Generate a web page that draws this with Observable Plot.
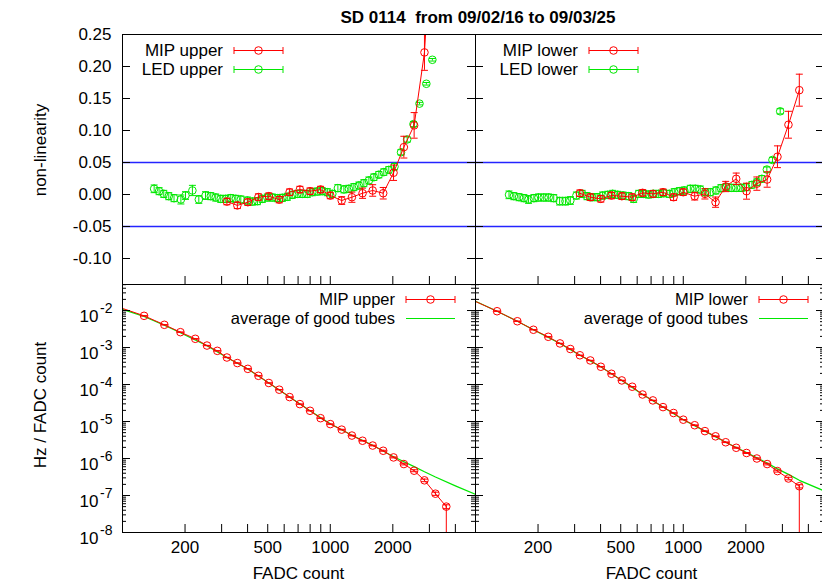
<!DOCTYPE html>
<html><head><meta charset="utf-8">
<script src="https://cdn.jsdelivr.net/npm/d3@7"></script>
<script src="https://cdn.jsdelivr.net/npm/@observablehq/plot@0.6"></script>
<style>
html,body{margin:0;padding:0;background:#fff;overflow:hidden}
#wrap{position:relative;width:822px;height:587px;overflow:hidden;background:#fff}
</style></head><body><div id="wrap"></div>
<script>
// ---------------- data ----------------
const titleText = "SD 0114  from 09/02/16 to 09/03/25";
const xTicks = [200,300,400,500,600,700,800,900,1000,2000,3000,4000];
const xTickLabels = [200,500,1000,2000];
const nonlinTicks = [-0.10,-0.05,0,0.05,0.10,0.15,0.20,0.25];
const nonlinLimits = [0.05,-0.05];
const rateTicks = [1e-8,1e-7,1e-6,1e-5,1e-4,1e-3,1e-2];

// MIP histogram bins (FADC count)
const mipBins = [95,127,159,190,224,255,286,318,357,401,451,506,568,637,714,799,898,1000,1135,1271,1430,1600,1798,2016,2260,2533,2840,3208,3618];
const mipUpperRate = [1.26e-2,7.19e-3,4.11e-3,2.60e-3,1.72e-3,1.13e-3,8.13e-4,5.37e-4,3.80e-4,2.65e-4,1.72e-4,1.10e-4,7.24e-5,4.57e-5,2.95e-5,1.95e-5,1.23e-5,8.51e-6,6.03e-6,4.17e-6,3.02e-6,2.24e-6,1.62e-6,1.07e-6,7.08e-7,4.68e-7,2.57e-7,1.12e-7,5.01e-8];
const mipUpperRateRelErr = [0.01,0.01,0.01,0.01,0.01,0.01,0.01,0.01,0.01,0.01,0.01,0.01,0.01,0.01,0.01,0.01,0.01,0.01,0.02,0.02,0.02,0.02,0.03,0.03,0.05,0.06,0.08,0.10,0.12];
const mipLowerRate = [2.0e-2,9.57e-3,5.13e-3,3.02e-3,1.95e-3,1.29e-3,9.12e-4,6.17e-4,4.47e-4,3.02e-4,1.95e-4,1.29e-4,8.71e-5,5.37e-5,3.72e-5,2.45e-5,1.70e-5,1.12e-5,7.94e-6,5.50e-6,3.98e-6,2.75e-6,1.95e-6,1.41e-6,1.00e-6,7.08e-7,4.57e-7,2.88e-7,1.78e-7];
const mipLowerRateRelErr = [0.01,0.01,0.01,0.01,0.01,0.01,0.01,0.01,0.01,0.01,0.01,0.01,0.01,0.01,0.01,0.01,0.01,0.01,0.02,0.02,0.02,0.02,0.03,0.03,0.04,0.05,0.06,0.08,0.10];
// bins whose lower error bar reaches zero
const mipUpperOpenBelow = [3618];
const mipLowerOpenBelow = [3618];

// average of good tubes
const avgUpperX = [100,127,159,190,255,318,401,506,637,799,1000,1271,1600,2016,2533,2840,3208,4000,5000];
const avgUpperRate = [1.07e-2,6.92e-3,3.98e-3,2.51e-3,1.12e-3,5.37e-4,2.63e-4,1.10e-4,4.57e-5,1.95e-5,8.71e-6,4.27e-6,2.29e-6,1.12e-6,6.03e-7,4.37e-7,3.16e-7,1.82e-7,1.07e-7];
const avgLowerX = [100,127,159,190,255,318,401,506,637,799,1000,1271,1600,2016,2533,2840,3208,3618,4780];
const avgLowerRate = [1.78e-2,9.55e-3,5.13e-3,3.02e-3,1.29e-3,6.17e-4,3.02e-4,1.29e-4,5.37e-5,2.45e-5,1.12e-5,5.50e-6,2.75e-6,1.45e-6,7.59e-7,5.25e-7,3.72e-7,2.57e-7,1.32e-7];

// non-linearity from MIP
const mipNonlinBins = [318,357,401,451,506,568,637,714,799,898,1000,1135,1271,1430,1600,1798,2016,2260,2533,2840,3208,3618];
const mipUpperNonlin = [-0.011,-0.017,-0.012,-0.004,-0.0026,-0.008,0.0036,0.0078,0.0052,0.0078,-0.0016,-0.0094,-0.0042,0.002,0.0063,0.002,0.034,0.074,0.108,0.222,0.50,null];
const mipUpperNonlinErr = [0.005,0.005,0.005,0.005,0.005,0.005,0.005,0.005,0.005,0.005,0.005,0.006,0.008,0.008,0.009,0.009,0.012,0.017,0.02,0.028,0.05,null];
const mipLowerNonlin = [0.002,-0.0042,-0.0068,-0.0016,-0.0026,-0.0042,0.0026,0.001,0.0036,-0.0042,0.0036,-0.0026,0.001,-0.012,0.0125,0.0245,0.0052,0.017,0.0234,0.059,0.109,0.163];
const mipLowerNonlinErr = [0.005,0.005,0.005,0.005,0.005,0.005,0.005,0.005,0.005,0.005,0.005,0.006,0.008,0.008,0.008,0.009,0.0125,0.0104,0.012,0.017,0.021,0.025];

// non-linearity from LED
const ledUpperX = [142,150,158,167,177,191,201,217,233,251,266,281,297,314,332,351,371,399,422,446,471,498,526,556,588,621,656,694,733,775,819,866,915,968,1023,1088,1163,1229,1299,1373,1451,1534,1621,1713,1810,1913,2037,2190,2345,2515,2688,2900,3100];
const ledUpperNonlin = [0.0089,0.0052,0.001,-0.0026,-0.0057,-0.0078,-0.0016,0.0063,-0.0078,-0.0016,-0.0026,-0.0047,-0.0068,-0.0068,-0.0057,-0.0068,-0.0078,-0.0094,-0.011,-0.0104,-0.0068,-0.0047,-0.0047,-0.0057,-0.0052,-0.0036,-0.0005,0.001,0.001,0.001,0.0036,0.0047,0.0052,0.0036,0.001,0.010,0.008,0.0089,0.0115,0.014,0.0177,0.0219,0.027,0.031,0.035,0.0385,0.0435,0.066,0.086,0.110,0.142,0.173,0.2105];
const ledUpperErr = [0.006,0.0055,0.0055,0.0055,0.0055,0.007,0.006,0.008,0.006,0.006,0.0055,0.0055,0.0055,0.0055,0.0055,0.0055,0.0055,0.0055,0.0055,0.0055,0.0055,0.0055,0.0055,0.0055,0.0055,0.0055,0.0055,0.0055,0.0055,0.0055,0.0055,0.0055,0.0055,0.0055,0.0055,0.0055,0.0055,0.0055,0.0055,0.0055,0.0055,0.0055,0.005,0.005,0.005,0.005,0.005,0.004,0.004,0.004,0.002,0.002,0.002];
const ledLowerX = [145,153,162,171,180,191,201,213,225,238,254,271,286,306,326,344,364,385,409,433,457,483,513,546,577,610,645,681,720,761,804,857,905,957,1011,1081,1142,1207,1276,1349,1436,1518,1610,1701,1798,1900,2009,2140,2260,2388,2525,2687,2927];
const ledLowerNonlin = [-0.0005,-0.0026,-0.0042,-0.0057,-0.0078,-0.0057,-0.0047,-0.0047,-0.0047,-0.0057,-0.0104,-0.0104,-0.0094,-0.0016,0.001,-0.0026,-0.0042,-0.0042,-0.0016,-0.0005,0.001,-0.0005,-0.0016,-0.0026,-0.0068,0.001,0.001,0,0.001,0.001,0.002,0.001,0.0036,0.0052,0.0063,0.0089,0.0089,0.0078,0.0036,0.0036,0.0063,0.0099,0.0115,0.0104,0.0104,0.0104,0.0115,0.0151,0.0193,0.0245,0.039,0.054,0.130];
const ledLowerErr = [0.006,0.0055,0.0055,0.0055,0.006,0.0055,0.0055,0.0055,0.0055,0.0055,0.006,0.006,0.006,0.0055,0.0055,0.0055,0.0055,0.0055,0.0055,0.0055,0.0055,0.0055,0.0055,0.0055,0.0055,0.0055,0.0055,0.0055,0.0055,0.0055,0.0055,0.0055,0.0055,0.0055,0.0055,0.0055,0.0055,0.0055,0.0055,0.0055,0.0055,0.0055,0.0055,0.0055,0.0055,0.0055,0.0055,0.005,0.005,0.005,0.004,0.004,0.004];

// ---------------- layout / style ----------------
const FONT = '"Liberation Sans", Arial, Helvetica, sans-serif';
const RED = "#ff0000", GREEN = "#00e800", BLUE = "#2424ff";
const W = 826, H = 587;
const X0 = 122, XM = 475, X1 = 824, Y0 = 34, YM = 284, Y1 = 532;
const xDomL = [100, 5000];
const xDomR = [100, 100 * Math.pow(50, (X1 - XM) / (XM - X0))];
const yDomTop = [-0.1406, 0.25];
const yDomBot = [1e-8, 0.0505];
const rateMinor = d3.range(-8, -1).flatMap(e => d3.range(2, 10).map(k => k * Math.pow(10, e))).filter(v => v < yDomBot[1]);

const capSymbol = {draw(ctx, size) { const r = Math.sqrt(size / Math.PI); ctx.moveTo(-r, 0); ctx.lineTo(r, 0); }};

function errMarks(data, color) {
  return [
    Plot.ruleX(data, {x: "x", y1: "lo", y2: "hi", stroke: color, strokeWidth: 1, clip: true}),
    Plot.dot(data, {x: "x", y: "lo", symbol: capSymbol, r: 3.5, stroke: color, fill: "none", strokeWidth: 1, clip: true}),
    Plot.dot(data, {x: "x", y: "hi", symbol: capSymbol, r: 3.5, stroke: color, fill: "none", strokeWidth: 1, clip: true}),
    Plot.dot(data, {x: "x", y: "y", r: 3.8, stroke: color, fill: "none", strokeWidth: 1, clip: true})
  ];
}

function frameTicks(innerW, innerH, yMajor, yMinor, xT) {
  const m = [
    Plot.tickY(yMajor, {y: d => d, insetRight: innerW - 8, stroke: "black"}),
    Plot.tickY(yMajor, {y: d => d, insetLeft: innerW - 8, stroke: "black"}),
    Plot.tickX(xT, {x: d => d, insetTop: innerH - 8, stroke: "black"})
  ];
  if (yMinor) {
    m.push(Plot.tickY(yMinor, {y: d => d, insetRight: innerW - 4, stroke: "black"}));
    m.push(Plot.tickY(yMinor, {y: d => d, insetLeft: innerW - 4, stroke: "black"}));
  }
  m.push(Plot.frame({stroke: "black", strokeWidth: 1}));
  return m;
}

function makePlot(left, right, top, bottom, x, y, marks) {
  return Plot.plot({
    width: W, height: H,
    marginLeft: left, marginRight: W - right, marginTop: top, marginBottom: H - bottom,
    x: {...x, axis: null}, y: {...y, axis: null},
    style: {fontFamily: FONT, fontSize: "17px", overflow: "visible", background: "transparent",
            maxWidth: "none", position: "absolute", left: "0px", top: "0px", color: "black"},
    marks
  });
}

const toErr = (xs, ys, es) => xs.map((x, i) => ({x, y: ys[i], lo: ys[i] - es[i], hi: ys[i] + es[i]})).filter(d => d.y != null);
const toRate = (xs, ys, rel) => xs.map((x, i) => ({x, y: ys[i], lo: ys[i] * (1 - rel[i]), hi: ys[i] * (1 + rel[i])}));

function nonlinPanel(left, right, xDom, mipData, ledData, showYLabels) {
  const innerW = right - left, innerH = YM - Y0;
  const marks = [
    Plot.ruleY(nonlinLimits, {y: d => d, stroke: BLUE, strokeWidth: 1.3}),
    ...errMarks(ledData, GREEN),
    Plot.line(mipData, {x: "x", y: "y", stroke: RED, strokeWidth: 1, clip: true}),
    ...errMarks(mipData, RED),
    ...frameTicks(innerW, innerH, nonlinTicks, null, xTicks)
  ];
  if (showYLabels) marks.push(Plot.text(nonlinTicks, {y: d => d, frameAnchor: "left", dx: -11, textAnchor: "end", text: d => d.toFixed(2), fontSize: 17}));
  return makePlot(left, right, Y0, YM, {type: "log", domain: xDom}, {domain: yDomTop}, marks);
}

function ratePanel(left, right, xDom, rates, openBelow, avg, showYLabels) {
  const innerW = right - left, innerH = Y1 - YM;
  const openData = rates.filter(d => openBelow.includes(d.x)).map(d => ({x: d.x, y1: d.y, y2: yDomBot[0] / 10}));
  const marks = [
    Plot.line(avg, {x: "x", y: "y", stroke: GREEN, strokeWidth: 1.2, clip: true}),
    Plot.line(rates, {x: "x", y: "y", stroke: RED, strokeWidth: 1, clip: true}),
    Plot.ruleX(openData, {x: "x", y1: "y1", y2: "y2", stroke: RED, strokeWidth: 1, clip: true}),
    ...errMarks(rates, RED),
    ...frameTicks(innerW, innerH, rateTicks, rateMinor, xTicks),
    Plot.text(xTickLabels, {x: d => d, frameAnchor: "bottom", dy: 20, text: d => String(d), fontSize: 17})
  ];
  if (showYLabels) {
    marks.push(Plot.text(rateTicks, {y: d => d, frameAnchor: "left", dx: -24, dy: 6, textAnchor: "end", text: () => "10", fontSize: 17}));
    marks.push(Plot.text(rateTicks, {y: d => d, frameAnchor: "left", dx: -10, dy: -2, textAnchor: "end", text: d => String(Math.round(Math.log10(d))), fontSize: 14}));
  }
  return makePlot(left, right, YM, Y1, {type: "log", domain: xDom}, {type: "log", domain: yDomBot}, marks);
}

const wrap = document.getElementById("wrap");

wrap.appendChild(nonlinPanel(X0, XM, xDomL, toErr(mipNonlinBins, mipUpperNonlin, mipUpperNonlinErr), toErr(ledUpperX, ledUpperNonlin, ledUpperErr), true));
wrap.appendChild(nonlinPanel(XM, X1, xDomR, toErr(mipNonlinBins, mipLowerNonlin, mipLowerNonlinErr), toErr(ledLowerX, ledLowerNonlin, ledLowerErr), false));
wrap.appendChild(ratePanel(X0, XM, xDomL, toRate(mipBins, mipUpperRate, mipUpperRateRelErr), mipUpperOpenBelow, avgUpperX.map((x, i) => ({x, y: avgUpperRate[i]})), true));
wrap.appendChild(ratePanel(XM, X1, xDomR, toRate(mipBins, mipLowerRate, mipLowerRateRelErr), mipLowerOpenBelow, avgLowerX.map((x, i) => ({x, y: avgLowerRate[i]})), false));

// ---------------- overlay: title, axis titles, legends ----------------
const ov = d3.create("svg").attr("width", 822).attr("height", 587)
  .style("position", "absolute").style("left", "0px").style("top", "0px")
  .style("font-family", FONT);
ov.append("text").attr("x", 478).attr("y", 23).attr("text-anchor", "middle")
  .attr("font-size", 17).attr("font-weight", "bold").style("white-space", "pre").text(titleText);
ov.append("text").attr("transform", "translate(40,150) rotate(-90)").attr("text-anchor", "middle")
  .attr("dy", "0.35em").attr("font-size", 17).text("non-linearity");
ov.append("text").attr("transform", "translate(40,405) rotate(-90)").attr("text-anchor", "middle")
  .attr("dy", "0.35em").attr("font-size", 17).text("Hz / FADC count");
for (const cx of [298.5, 651.5]) {
  ov.append("text").attr("x", cx).attr("y", 573).attr("text-anchor", "middle").attr("dy", "0.35em")
    .attr("font-size", 17).text("FADC count");
}
function legendRow(xEnd, y, label, color, withErr, fs) {
  const g = ov.append("g");
  g.append("text").attr("x", xEnd).attr("y", y).attr("dy", "0.35em").attr("text-anchor", "end")
    .attr("font-size", fs).text(label);
  const a = xEnd + 11, b = xEnd + 60;
  g.append("line").attr("x1", a).attr("x2", b).attr("y1", y).attr("y2", y).attr("stroke", color).attr("stroke-width", withErr ? 1 : 1.2);
  if (withErr) {
    g.append("line").attr("x1", a).attr("x2", a).attr("y1", y - 3.5).attr("y2", y + 3.5).attr("stroke", color);
    g.append("line").attr("x1", b).attr("x2", b).attr("y1", y - 3.5).attr("y2", y + 3.5).attr("stroke", color);
    g.append("circle").attr("cx", (a + b) / 2).attr("cy", y).attr("r", 3.8).attr("fill", "none").attr("stroke", color);
  }
}
legendRow(223, 50.5, "MIP upper", RED, true, 17);
legendRow(223, 69.5, "LED upper", GREEN, true, 17);
legendRow(578, 50.5, "MIP lower", RED, true, 17);
legendRow(578, 69.5, "LED lower", GREEN, true, 17);
legendRow(395, 299.5, "MIP upper", RED, true, 16.5);
legendRow(395, 318.5, "average of good tubes", GREEN, false, 16.5);
legendRow(748, 299.5, "MIP lower", RED, true, 16.5);
legendRow(748, 318.5, "average of good tubes", GREEN, false, 16.5);
wrap.appendChild(ov.node());
</script></body></html>
